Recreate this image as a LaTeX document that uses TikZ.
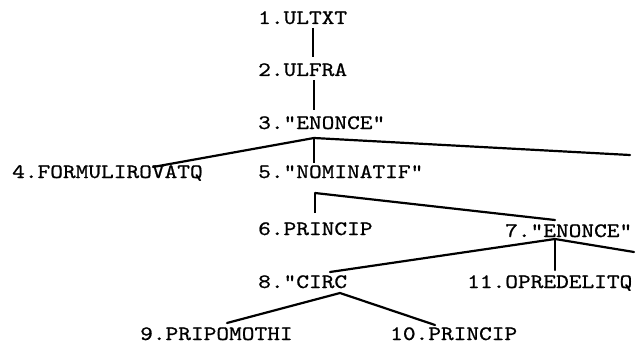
\documentclass[tikz,border=0pt]{standalone}
\usepackage{fontspec}
% wide, slightly heavy typewriter lettering
\setmonofont[FakeStretch=1.18, FakeBold=0.8]{lmmono10-regular.otf}
\usetikzlibrary{calc}
\begin{document}
\begin{tikzpicture}[x=1pt,y=-1pt,
  lbl/.style={anchor=base west, inner sep=0pt,
    font=\ttfamily\fontsize{20.5}{22}\selectfont},
  thinlink/.style={line width=1.2pt},
  link/.style={line width=2.2pt, line cap=round}]
  \useasboundingbox (0,0) rectangle (637,345);

  % tree nodes
  \node[lbl] (n1)  at (258,24)  {1.ULTXT};
  \node[lbl] (n2)  at (258,76)  {2.ULFRA};
  \node[lbl] (n3)  at (258,129) {3."ENONCE"};
  \node[lbl] (n4)  at (12,178)  {4.FORMULIROVATQ};
  \node[lbl] (n5)  at (258,178) {5."NOMINATIF"};
  \node[lbl] (n6)  at (258,235) {6.PRINCIP};
  \node[lbl] (n7)  at (505,237) {7."ENONCE"};
  \node[lbl] (n8)  at (258,288) {8."CIRC};
  \node[lbl] (n11) at (467,288) {11.OPREDELITQ};
  \node[lbl] (n9)  at (140,340) {9.PRIPOMOTHI};
  \node[lbl] (n10) at (390,340) {10.PRINCIP};

  % branches running off the right edge
  \coordinate (r3) at (630,155);
  \coordinate (r7) at (634,252);

  % 1 -> 2 -> 3
  \draw[thinlink] ($(n1.base west)+(55,4)$) -- ($(n2.base west)+(55,-19)$);
  \draw[thinlink] ($(n2.base west)+(56,4)$) -- ($(n3.base west)+(56,-19)$);

  % 3 -> 4, 5, off-edge
  \draw[link] ($(n4.base west)+(141,-11)$) -- ($(n3.base west)+(56,9)$) -- (r3);
  \draw[thinlink] ($(n3.base west)+(56,9)$) -- ($(n5.base west)+(56,-15)$);

  % 5 -> 6, 7
  \draw[thinlink] ($(n6.base west)+(57,-22)$) -- ($(n5.base west)+(57,15)$);
  \draw[link] ($(n5.base west)+(57,15)$) -- ($(n7.base west)+(50,-17)$);

  % 7 -> 8, 11, off-edge
  \draw[link] ($(n8.base west)+(72,-16)$) -- ($(n7.base west)+(50,2)$) -- (r7);
  \draw[link] ($(n7.base west)+(50,2)$) -- ($(n11.base west)+(88,-18)$);

  % 8 -> 9, 10
  \draw[link] ($(n9.base west)+(87,-17)$) -- ($(n8.base west)+(82,5)$)
    -- ($(n10.base west)+(45,-15)$);
\end{tikzpicture}
\end{document}
